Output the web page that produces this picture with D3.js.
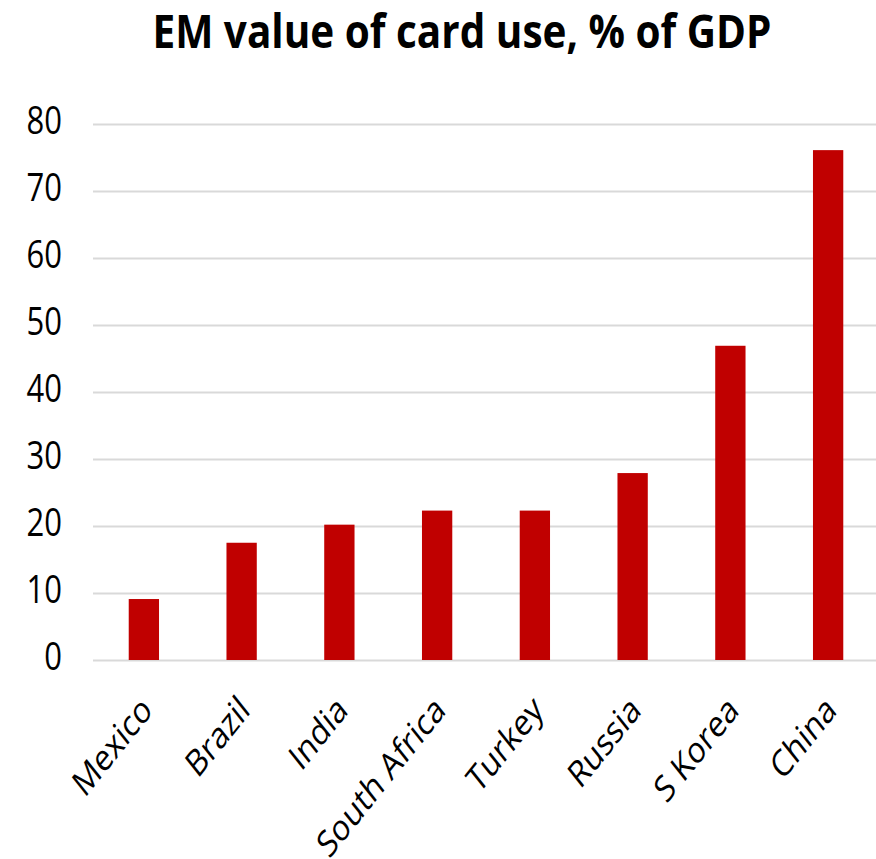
<!DOCTYPE html>
<html>
<head>
<meta charset="utf-8">
<script src="https://cdn.jsdelivr.net/npm/d3@7"></script>
<style>
  body { margin: 0; background: #fff; }
  svg { display: block; font-family: 'Open Sans', sans-serif; }
</style>
</head>
<body>
<div id="chart"></div>
<script>
const title = 'EM value of card use, % of GDP';
const countries = ['Mexico', 'Brazil', 'India', 'South Africa', 'Turkey', 'Russia', 'S Korea', 'China'];
const values = [9.1, 17.5, 20.2, 22.3, 22.3, 27.9, 46.9, 76.1];
const yTicks = [0, 10, 20, 30, 40, 50, 60, 70, 80];

const width = 876;
const height = 859;
const stretch = 1.25; // the picture is stretched vertically

const plot = { left: 93, right: 876, top: 124, bottom: 660 };

const svg = d3
  .select('#chart')
  .append('svg')
  .attr('width', width)
  .attr('height', height);

const x = d3
  .scaleBand()
  .domain(countries)
  .range([95, 877])
  .paddingInner(0.69)
  .paddingOuter(0.345);

const y = d3.scaleLinear().domain([0, 80]).range([plot.bottom, plot.top]);

// title, squeezed to the reference width
svg
  .append('text')
  .attr('x', 462)
  .attr('y', 48)
  .attr('text-anchor', 'middle')
  .attr('textLength', 619)
  .attr('lengthAdjust', 'spacingAndGlyphs')
  .style('font-weight', 700)
  .style('font-size', '47px')
  .attr('fill', '#000')
  .text(title);

// y axis with gridlines
const gy = svg
  .append('g')
  .attr('transform', `translate(${plot.left}, 0)`)
  .call(
    d3
      .axisLeft(y)
      .tickValues(yTicks)
      .tickSize(-(plot.right - plot.left))
      .tickPadding(31)
  );

gy.select('.domain').remove();
gy.selectAll('.tick line').attr('stroke', '#d9d9d9').attr('stroke-width', 2);
gy.selectAll('.tick text')
  .attr('dy', null)
  .attr('y', 7.2)
  .attr('transform', `scale(1, ${stretch})`)
  .attr('fill', '#000')
  .style('font-size', '31px')
  .style('font-family', "'Open Sans', sans-serif");

// bars
svg
  .append('g')
  .selectAll('rect')
  .data(values)
  .join('rect')
  .attr('x', (d, i) => x(countries[i]))
  .attr('y', d => y(d))
  .attr('width', x.bandwidth())
  .attr('height', d => y(0) - y(d))
  .attr('fill', '#c00000');

// rotated category labels
svg
  .append('g')
  .selectAll('text')
  .data(countries)
  .join('text')
  .attr('text-anchor', 'end')
  .attr(
    'transform',
    d =>
      `translate(${x(d) + x.bandwidth() / 2 + 10}, 712) scale(1, ${stretch}) rotate(-45)`
  )
  .style('font-size', '29.5px')
  .attr('fill', '#000')
  .text(d => d);
</script>
</body>
</html>
